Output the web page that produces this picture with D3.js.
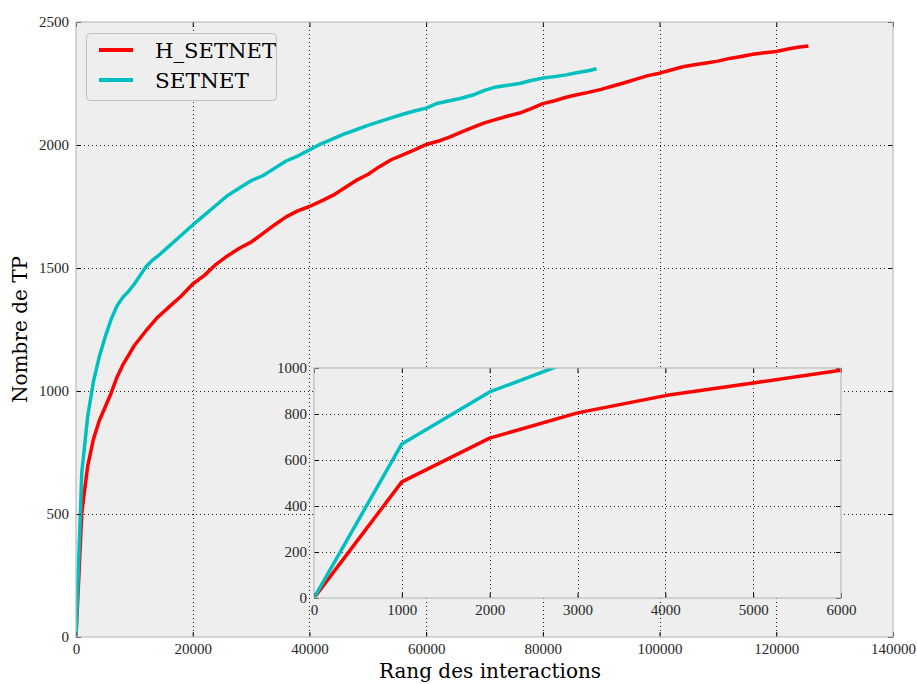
<!DOCTYPE html>
<html>
<head>
<meta charset="utf-8">
<script src="https://cdn.jsdelivr.net/npm/d3@7"></script>
<style>
  html, body { margin: 0; padding: 0; background: #ffffff; }
  svg text { font-family: "Liberation Serif", "DejaVu Serif", serif; }
</style>
</head>
<body>
<svg id="chart" width="917" height="684"></svg>
<script>
// Cumulative true positives by interaction rank, for both methods
const hSetnetRank = [0, 1000, 2000, 3000, 4000, 5000, 6000, 7000, 8000, 9000, 10000,
  12000, 14000, 16000, 18000, 20000, 22000, 24000, 26000, 28000, 30000, 32000, 34000,
  36000, 38000, 40000, 42000, 44000, 46000, 48000, 50000, 52000, 54000, 56000, 58000,
  60000, 62000, 64000, 66000, 68000, 70000, 72000, 74000, 76000, 78000, 80000, 82000,
  84000, 86000, 88000, 90000, 92000, 94000, 96000, 98000, 100000, 102000, 104000,
  106000, 108000, 110000, 112000, 114000, 116000, 118000, 120000, 122000, 124000, 125500];
const hSetnetTP = [0, 505, 695, 805, 880, 935, 990, 1055, 1105, 1145, 1185,
  1245, 1300, 1343, 1385, 1435, 1470, 1515, 1550, 1580, 1605, 1640, 1675,
  1708, 1732, 1750, 1772, 1795, 1825, 1856, 1880, 1912, 1940, 1960, 1980,
  2002, 2015, 2032, 2052, 2072, 2090, 2104, 2118, 2130, 2148, 2168, 2180,
  2194, 2205, 2215, 2226, 2240, 2253, 2268, 2282, 2292, 2305, 2318,
  2326, 2333, 2341, 2352, 2360, 2369, 2375, 2380, 2390, 2398, 2402];

const setnetRank = [0, 1000, 2000, 3000, 4000, 5000, 6000, 7000, 8000, 9000, 10000,
  11000, 12000, 13000, 14000, 16000, 18000, 20000, 22000, 24000, 26000, 28000, 30000,
  32000, 34000, 36000, 38000, 40000, 42000, 44000, 46000, 48000, 50000, 52000, 54000,
  56000, 58000, 60000, 62000, 64000, 66000, 68000, 70000, 72000, 74000, 76000, 78000,
  80000, 82000, 84000, 86000, 88000, 89200];
const setnetTP = [0, 670, 896, 1040, 1140, 1220, 1290, 1345, 1380, 1405, 1435,
  1470, 1505, 1530, 1548, 1590, 1632, 1675, 1715, 1755, 1795, 1825, 1855,
  1875, 1905, 1935, 1955, 1980, 2005, 2025, 2045, 2062, 2080, 2095, 2110,
  2125, 2138, 2150, 2170, 2180, 2190, 2203, 2222, 2236, 2243, 2250, 2262,
  2272, 2278, 2285, 2295, 2303, 2310];

const seriesNames = ["H_SETNET", "SETNET"];
const seriesColors = ["#ff0000", "#00bfbf"];

const mainXTicks = [0, 20000, 40000, 60000, 80000, 100000, 120000, 140000];
const mainYTicks = [0, 500, 1000, 1500, 2000, 2500];
const insetXTicks = [0, 1000, 2000, 3000, 4000, 5000, 6000];
const insetYTicks = [0, 200, 400, 600, 800, 1000];

const series = [
  { name: seriesNames[0], color: seriesColors[0], pts: hSetnetRank.map((r, i) => [r, hSetnetTP[i]]) },
  { name: seriesNames[1], color: seriesColors[1], pts: setnetRank.map((r, i) => [r, setnetTP[i]]) }
];

const titleFont = "'DejaVu Serif', 'Liberation Serif', serif";
const svg = d3.select("#chart");

// Draws one framed panel: background, grid, curves, ticks and tick labels
function panel(id, box, xDomain, yDomain, xTicks, yTicks) {
  const g = svg.append("g").attr("class", id);
  const x = d3.scaleLinear().domain(xDomain).range([box.left, box.right]);
  const y = d3.scaleLinear().domain(yDomain).range([box.bottom, box.top]);

  g.append("rect")
    .attr("x", box.left).attr("y", box.top)
    .attr("width", box.right - box.left).attr("height", box.bottom - box.top)
    .attr("fill", "#eeeeee");

  const clipId = id + "-clip";
  g.append("clipPath").attr("id", clipId).append("rect")
    .attr("x", box.left).attr("y", box.top)
    .attr("width", box.right - box.left).attr("height", box.bottom - box.top);

  const grid = g.append("g")
    .attr("stroke", "#000").attr("stroke-width", 1)
    .attr("stroke-dasharray", "1,3").attr("opacity", 0.85);
  grid.selectAll("line.vx").data(xTicks.slice(1, -1)).join("line")
    .attr("class", "vx")
    .attr("x1", d => Math.round(x(d)) + 0.5).attr("x2", d => Math.round(x(d)) + 0.5)
    .attr("y1", box.top).attr("y2", box.bottom);
  grid.selectAll("line.hy").data(yTicks.slice(1, -1)).join("line")
    .attr("class", "hy")
    .attr("y1", d => Math.round(y(d)) + 0.5).attr("y2", d => Math.round(y(d)) + 0.5)
    .attr("x1", box.left).attr("x2", box.right);

  const line = d3.line().x(d => x(d[0])).y(d => y(d[1]));
  g.append("g").attr("clip-path", `url(#${clipId})`)
    .selectAll("path").data(series).join("path")
    .attr("d", d => line(d.pts))
    .attr("fill", "none")
    .attr("stroke", d => d.color)
    .attr("stroke-width", 3.5)
    .attr("stroke-linejoin", "round")
    .attr("stroke-linecap", "butt");

  const fmt = d3.format("d");
  const styleAxis = sel => {
    sel.select(".domain").remove();
    sel.selectAll(".tick line").attr("stroke", "#000").attr("stroke-width", 1);
    sel.selectAll(".tick text")
      .attr("fill", "#262626")
      .style("font-size", "15px")
      .style("font-family", "'Liberation Serif', serif");
  };

  g.append("g").attr("transform", `translate(0,${box.bottom})`)
    .call(d3.axisBottom(x).tickValues(xTicks).tickFormat(fmt).tickSize(-5).tickPadding(6.5))
    .call(styleAxis);
  g.append("g").attr("transform", `translate(0,${box.top})`)
    .call(d3.axisTop(x).tickValues(xTicks).tickFormat("").tickSize(-5))
    .call(styleAxis);
  g.append("g").attr("transform", `translate(${box.left},0)`)
    .call(d3.axisLeft(y).tickValues(yTicks).tickFormat(fmt).tickSize(-5).tickPadding(7))
    .call(styleAxis);
  g.append("g").attr("transform", `translate(${box.right},0)`)
    .call(d3.axisRight(y).tickValues(yTicks).tickFormat("").tickSize(-5))
    .call(styleAxis);

  g.append("rect")
    .attr("x", box.left).attr("y", box.top)
    .attr("width", box.right - box.left).attr("height", box.bottom - box.top)
    .attr("fill", "none").attr("stroke", "#bcbcbc").attr("stroke-width", 1.2);

  return { g, x, y };
}

// Main panel: full ranking
const mainBox = { left: 76, right: 893, top: 22, bottom: 637 };
panel("main", mainBox, [0, 140000], [0, 2500], mainXTicks, mainYTicks);

// Axis titles
svg.append("text")
  .attr("x", 490).attr("y", 678)
  .attr("text-anchor", "middle")
  .style("font-family", titleFont)
  .style("font-size", "20px").attr("fill", "#000")
  .text("Rang des interactions");
svg.append("text")
  .attr("transform", `translate(27,${(mainBox.top + mainBox.bottom) / 2}) rotate(-90)`)
  .attr("text-anchor", "middle")
  .style("font-family", titleFont)
  .style("font-size", "20px").attr("fill", "#000")
  .text("Nombre de TP");

// Legend
const legend = svg.append("g").attr("class", "legend");
legend.append("rect")
  .attr("x", 86.5).attr("y", 33.5).attr("width", 190).attr("height", 67).attr("rx", 4)
  .attr("fill", "#eeeeee").attr("stroke", "#bfbfbf").attr("stroke-width", 1);
const legendWidths = [121, 94];
series.forEach((s, i) => {
  const ly = 50 + i * 30;
  legend.append("line")
    .attr("x1", 99).attr("x2", 133).attr("y1", ly).attr("y2", ly)
    .attr("stroke", s.color).attr("stroke-width", 4);
  legend.append("text")
    .attr("x", 155).attr("y", ly + 7.5)
    .attr("textLength", legendWidths[i]).attr("lengthAdjust", "spacingAndGlyphs")
    .style("font-family", titleFont)
    .style("font-size", "20px").attr("fill", "#000")
    .text(s.name);
});

// Inset: zoom on the first 6000 interactions
const insetBox = { left: 314, right: 841, top: 368, bottom: 598 };
panel("inset", insetBox, [0, 6000], [0, 1000], insetXTicks, insetYTicks);
</script>
</body>
</html>
